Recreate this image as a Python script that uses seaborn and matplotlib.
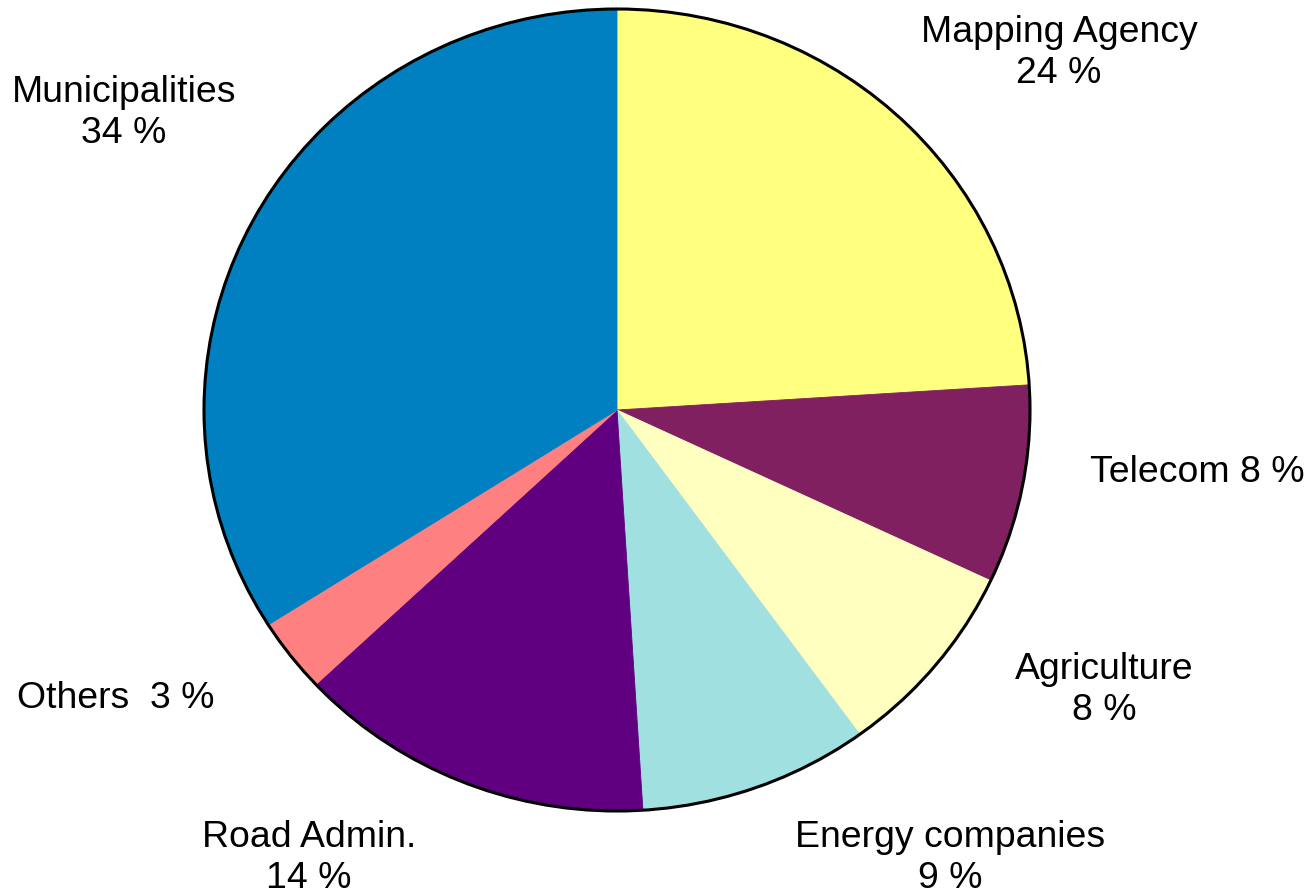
import matplotlib
matplotlib.use("Agg")
import matplotlib.pyplot as plt
import matplotlib.patches as mpatches
import seaborn as sns

sns.set_theme(style="white")
plt.rcParams['font.family'] = ['Liberation Sans', 'DejaVu Sans']

# data, clockwise from 12 o'clock
sectors = ['Mapping Agency', 'Telecom', 'Agriculture', 'Energy companies',
           'Road Admin.', 'Others', 'Municipalities']
shares = [24, 8, 8, 9, 14, 3, 34]
colors = ['#FFFF80', '#802060', '#FFFFC0', '#A0E0E0', '#600080', '#FF8080', '#0080C0']
label_texts = ['Mapping Agency\n24 %', 'Telecom 8 %', 'Agriculture\n8 %',
               'Energy companies\n9 %', 'Road Admin.\n14 %', 'Others  3 %',
               'Municipalities\n34 %']

W, H = 1315, 894
fig = plt.figure(figsize=(W / 100, H / 100), dpi=100)

# pie is slightly wider than tall in the reference
cx, cy, rx, ry = 617, 410, 413, 401
m = 1.05
ax = fig.add_axes([(cx - m * rx) / W, (H - cy - m * ry) / H, 2 * m * rx / W, 2 * m * ry / H])

wedges, _ = ax.pie(shares, colors=colors, startangle=90, counterclock=False,
                   wedgeprops=dict(linewidth=0.6))
for w, c in zip(wedges, colors):
    w.set_edgecolor(c)
ax.add_patch(mpatches.Circle((0, 0), 1, fill=False, edgecolor='black', linewidth=2.2))
ax.set_aspect('auto')
ax.set_xlim(-m, m)
ax.set_ylim(-m, m)
ax.axis('off')

# label positions in pixels (x, y, ha)
label_pos = [(1059, 53, 'center'), (1090, 472, 'left'), (1104, 690, 'center'),
             (950, 858, 'center'), (309, 858, 'center'), (17, 699, 'left'),
             (124, 113, 'center')]
for txt, (x, y, ha) in zip(label_texts, label_pos):
    fig.text(x / W, 1 - y / H, txt, ha=ha, va='center', multialignment='center',
             fontsize=26.9, color='black', linespacing=1.24)

fig.savefig('out.png', dpi=100, facecolor='white')
